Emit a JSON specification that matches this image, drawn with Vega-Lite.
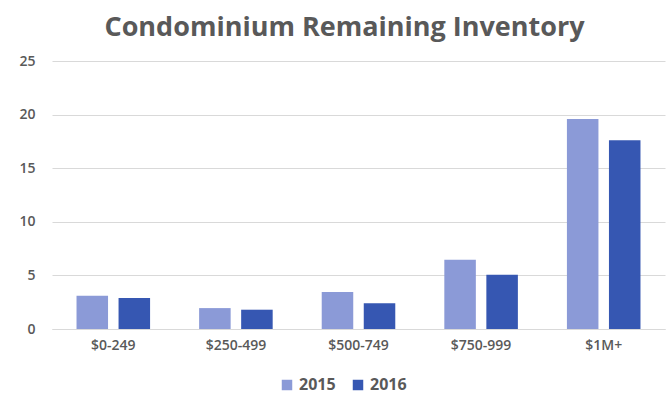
{
  "$schema": "https://vega.github.io/schema/vega-lite/v6.json",
  "width": 613,
  "height": 268,
  "autosize": "none",
  "padding": {"left": 52, "top": 61, "right": 3, "bottom": 74},
  "background": "white",
  "title": {
    "text": "Condominium Remaining Inventory",
    "font": "Open Sans",
    "fontSize": 27,
    "fontWeight": "bold",
    "color": "#595959",
    "anchor": "middle",
    "dx": -14,
    "offset": 12
  },
  "data": {
    "values": [
      {"range": "$0-249", "year": "2015", "value": 3.1},
      {"range": "$0-249", "year": "2016", "value": 2.9},
      {"range": "$250-499", "year": "2015", "value": 1.95},
      {"range": "$250-499", "year": "2016", "value": 1.8},
      {"range": "$500-749", "year": "2015", "value": 3.45},
      {"range": "$500-749", "year": "2016", "value": 2.4},
      {"range": "$750-999", "year": "2015", "value": 6.45},
      {"range": "$750-999", "year": "2016", "value": 5.05},
      {"range": "$1M+", "year": "2015", "value": 19.6},
      {"range": "$1M+", "year": "2016", "value": 17.6}
    ]
  },
  "mark": {"type": "bar"},
  "encoding": {
    "x": {
      "field": "range",
      "type": "nominal",
      "sort": null,
      "scale": {"paddingInner": 0.4, "paddingOuter": 0.2},
      "axis": {
        "title": null,
        "labelAngle": 0,
        "labelFont": "Open Sans",
        "labelFontSize": 14,
        "labelFontWeight": 600,
        "labelColor": "#595959",
        "labelPadding": 9,
        "ticks": false,
        "domainColor": "#d9d9d9",
        "domainWidth": 1
      }
    },
    "xOffset": {
      "field": "year",
      "scale": {"paddingInner": 0.25, "paddingOuter": 0}
    },
    "y": {
      "field": "value",
      "type": "quantitative",
      "scale": {"domain": [0, 25]},
      "axis": {
        "title": null,
        "values": [0, 5, 10, 15, 20, 25],
        "labelFont": "Open Sans",
        "labelFontSize": 14,
        "labelFontWeight": 600,
        "labelColor": "#595959",
        "labelPadding": 17,
        "ticks": false,
        "domain": false,
        "gridColor": "#d9d9d9",
        "gridWidth": 1
      }
    },
    "color": {
      "field": "year",
      "type": "nominal",
      "scale": {"domain": ["2015", "2016"], "range": ["#8b9ad7", "#3657b2"]},
      "legend": {
        "title": null,
        "orient": "none",
        "legendX": 227,
        "legendY": 316,
        "direction": "horizontal",
        "symbolType": "square",
        "symbolSize": 110,
        "symbolStrokeWidth": 0,
        "labelFont": "Open Sans",
        "labelFontSize": 16,
        "labelFontWeight": "bold",
        "labelColor": "#595959",
        "labelOffset": 4,
        "columnPadding": 14
      }
    }
  },
  "config": {"view": {"stroke": null}}
}
